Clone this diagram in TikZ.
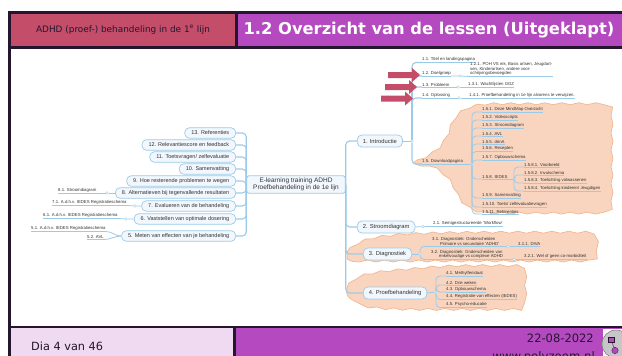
\documentclass[tikz,border=0pt]{standalone}
\usepackage{fontspec}
\setmainfont{Liberation Sans}
\newfontfamily\vfont{DejaVu Sans}
\usetikzlibrary{decorations.pathmorphing}
\definecolor{darkbar}{HTML}{24162F}
\definecolor{purplebar}{HTML}{B54AC0}
\definecolor{redbar}{HTML}{C44D69}
\definecolor{pinkbar}{HTML}{F0DAF2}
\definecolor{linkblue}{HTML}{9CCBE8}
\definecolor{pillfill}{HTML}{F1F7FC}
\definecolor{cloudfill}{HTML}{F9D5BF}
\definecolor{cloudline}{HTML}{F2B78F}
\definecolor{inktext}{HTML}{333333}
\tikzset{
  x=1pt,y=-1pt,
  lnk/.style={draw=linkblue,line width=0.8pt,rounded corners=4pt},
  spine/.style={draw=linkblue,line width=1.1pt,rounded corners=4pt},
  ulin/.style={draw=linkblue,line width=0.7pt},
  pill/.style={draw=linkblue,fill=pillfill,rounded corners=4.5pt,line width=0.7pt,minimum height=10.5pt,inner xsep=6.5pt,inner ysep=0pt,text=inktext,font=\fontsize{5.5}{5.6}\selectfont},
  bigpill/.style={pill,minimum height=12pt,inner xsep=5.5pt,font=\fontsize{5.8}{6}\selectfont},
  leaf/.style={anchor=south west,inner xsep=0pt,inner ysep=0.7pt,text=inktext,align=left,font=\fontsize{4.3}{4.6}\selectfont},
  dot/.style={circle,draw=linkblue,fill=white,line width=0.4pt,minimum size=2.6pt,inner sep=0pt},
  cloudb/.style={draw=cloudline,fill=cloudfill,line width=0.7pt,decorate,decoration={snake,segment length=17pt,amplitude=1pt}},
  fatarrow/.style={fill=redbar,draw=none},
}
\newcommand{\lf}[4]{\node[leaf] (#1) at (#2,#3) {#4};\draw[ulin] (#1.south west) -- (#1.south east);}
\newcommand{\fatarr}[3]{\fill[fatarrow] (#1,#2-3) -- (#3-8,#2-3) -- (#3-8,#2-7) -- (#3,#2) -- (#3-8,#2+7) -- (#3-8,#2+3) -- (#1,#2+3) -- cycle;}
\begin{document}
\begin{tikzpicture}
\clip (0,0) rectangle (622,356);
\fill[white] (0,0) rectangle (622,356);
% frame
\fill[darkbar] (8,11) rectangle (622,14);
\fill[darkbar] (8,11) rectangle (11,356);
\fill[redbar] (11,14) rectangle (235,46);
\fill[purplebar] (238,14) rectangle (622,46);
\fill[darkbar] (235,14) rectangle (238,46);
\fill[darkbar] (11,46) rectangle (622,48.5);
\fill[darkbar] (11,326) rectangle (622,328);
\fill[pinkbar] (11,328) rectangle (233,356);
\fill[darkbar] (233,328) rectangle (236,356);
\fill[purplebar] (236,328) rectangle (622,356);
\node[text=darkbar,font=\vfont\fontsize{8.9}{9}\selectfont] (hdr) at (123,30) {ADHD (proef-) behandeling in de 1\textsuperscript{e} lijn};
\node[text=white,font=\vfont\bfseries\fontsize{16.3}{17}\selectfont] (title) at (429,30) {1.2 Overzicht van de lessen (Uitgeklapt)};
\node[text=darkbar,anchor=west,inner sep=0pt,font=\vfont\fontsize{11.3}{12}\selectfont] (dia) at (31,346) {Dia 4 van 46};
\node[text=darkbar,anchor=east,inner sep=0pt,font=\vfont\fontsize{11.5}{12}\selectfont] (date) at (594,338) {22-08-2022};
\node[text=darkbar,anchor=east,inner sep=0pt,font=\vfont\fontsize{11.7}{12}\selectfont] (www) at (595,357) {www.polyzoom.nl};
% logo
\fill[white] (603,329) rectangle (622,356);
\fill[gray!45,draw=gray!90!black,line width=0.5pt] (616,344) circle (14);
\draw[purplebar!70!black,line width=0.6pt] (611,340) -- (615,350);
\fill[purplebar,draw=darkbar,line width=0.3pt] (608,337) rectangle (614,342);
\fill[purplebar,draw=darkbar,line width=0.3pt] (615,350.5) circle (3.2);
% clouds
\path[cloudb] (413,163) .. controls (430,155) and (440,150) .. (447,128) .. controls (452,113) and (465,105.5) .. (490,105.5) -- (597,105.5) .. controls (605,105.5) and (608,108) .. (608,115) -- (608,206) .. controls (608,213) and (605,216.5) .. (597,216.5) -- (490,216.5) .. controls (468,216.5) and (458,210) .. (450,190) .. controls (442,175) and (430,170) .. cycle;
\path[cloudb] (347,252) .. controls (355,244) and (365,240) .. (400,237) .. controls (440,235) and (470,235) .. (520,235) -- (585,235) .. controls (592,235) and (594,238) .. (594,244) -- (594,254) .. controls (594,260) and (592,264) .. (585,264) -- (360,264) .. controls (352,264) and (347,260) .. cycle;
\path[cloudb] (347,288) .. controls (352,280) and (362,276) .. (400,273) .. controls (425,271) and (440,269) .. (470,269) -- (515,269) .. controls (521,269) and (523,271) .. (523,276) -- (523,304) .. controls (523,309) and (521,312) .. (515,312) -- (440,312) .. controls (400,312) and (380,312) .. (362,309) .. controls (352,307) and (347,300) .. cycle;
% mind map: centre
\node[pill,minimum width=97pt,minimum height=17.5pt,font=\fontsize{6.5}{6.8}\selectfont,align=center,rounded corners=2.5pt,line width=0.8pt] (cen) at (296,184.5) {E-learning training ADHD\\Proefbehandeling in de 1e lijn};
% left pills
\node[pill,anchor=east] (p13) at (236,133) {13. Referenties};
\node[pill,anchor=east] (p12) at (236,145) {12. Relevantiescore en feedback};
\node[pill,anchor=east] (p11) at (236,157) {11. Toetsvragen/ zelfevaluatie};
\node[pill,anchor=east] (p10) at (236,169) {10. Samenvatting};
\node[pill,anchor=east] (p9) at (236,181) {9. Hoe resterende problemen te wegen};
\node[pill,anchor=east] (p8) at (236,193) {8. Alternatieven bij tegenvallende resultaten};
\node[pill,anchor=east] (p7) at (236,206) {7. Evalueren van de behandeling};
\node[pill,anchor=east] (p6) at (236,219) {6. Vaststellen van optimale dosering};
\node[pill,anchor=east] (p5) at (236,236) {5. Meten van effecten van je behandeling};
\foreach \n in {p13,p12,p11,p10,p9,p8,p7,p6,p5} \draw[spine] (\n.east) -| (cen.west);
% left leaves
\node[dot] (d8) at (107,193) {};
\node[dot] (d7) at (135,206) {};
\node[dot] (d6) at (126,219) {};
\lf{l81}{58}{193}{8.1. Stroomdiagram}
\lf{l71}{52}{205.5}{7.1. A.d.h.v. IEDES Registratieschema}
\lf{l61}{43}{218.5}{6.1. A.d.h.v. IEDES Registratieschema}
\lf{l51}{31}{231.5}{5.1. A.d.h.v. IEDES Registratieschema}
\lf{l52}{87}{239.5}{5.2. AVL}
\draw[lnk] (p8.west) -- (d8) -- (l81.south east);
\draw[lnk] (p7.west) -- (d7) -- (l71.south east);
\draw[lnk] (p6.west) -- (d6) -- (l61.south east);
\draw[lnk] (p5.west) to[out=180,in=0] (l51.south east);
\draw[lnk] (p5.west) to[out=180,in=0] (l52.south east);
% right pills
\node[bigpill,anchor=west] (p1) at (357,141) {1. Introductie};
\node[bigpill,anchor=west] (p2) at (357,227) {2. Stroomdiagram};
\node[bigpill,anchor=west] (p3) at (363,254) {3. Diagnostiek};
\node[bigpill,anchor=west] (p4) at (363,293) {4. Proefbehandeling};
\foreach \n in {p1,p2,p3,p4} \draw[spine] (\n.west) -| (cen.east);
% branch 1
\node[dot] (d1) at (412,141) {};
\draw[lnk] (p1.east) -- (d1);
\node[dot] (d12) at (460,76) {};
\node[dot] (d13) at (458,87) {};
\node[dot] (d14) at (459,98) {};
\lf{l11}{422}{62.5}{1.1. Titel en landingspagina}
\lf{l12}{422}{76}{1.2. Doelgroep}
\lf{l13}{422}{87}{1.3. Probleem}
\lf{l14}{422}{98}{1.4. Oplossing}
\lf{l121}{470}{76.5}{1.2.1. POH VS mk, Basis artsen, Jeugdart-\\sen, Kinderartsen, andere voor-\\schrijvingsbevoegden\hspace{22pt}}
\lf{l131}{468}{87}{1.3.1. Wachtlijsten GGZ}
\lf{l141}{469}{98}{1.4.1. Proefbehandeling in 1e lijn alvorens te verwijzen.}
\foreach \n in {l11,l12,l13,l14} \draw[spine] (\n.south west) -| (d1);
\draw[lnk] (l12.south east) -- (d12) -- (l121.south west);
\draw[lnk] (l13.south east) -- (d13) -- (l131.south west);
\draw[lnk] (l14.south east) -- (d14) -- (l141.south west);
% 1.5
\lf{l15}{422}{164}{1.5. Downloadpagina}
\node[dot] (d15) at (472,164) {};
\draw[spine] (l15.south west) -| (d1);
\draw[lnk] (l15.south east) -- (d15);
\lf{a1}{482}{112}{1.5.1. Deze MindMap Overzicht}
\lf{a2}{482}{120}{1.5.2. Videoscripts}
\lf{a3}{482}{128}{1.5.3. Stroomdiagram}
\lf{a4}{482}{136}{1.5.4. AVL}
\lf{a5}{482}{144}{1.5.5. drinA}
\lf{a6}{482}{151.5}{1.5.6. Recepten}
\lf{a7}{482}{160}{1.5.7. Opbouwschema}
\lf{a8}{482}{179}{1.5.8. IEDES}
\lf{a9}{482}{198}{1.5.9. Samenvatting}
\lf{a10}{482}{207}{1.5.10. Toets/ zelfevaluatievragen}
\lf{a11}{482}{214}{1.5.11. Referenties}
\foreach \n in {a1,a2,a3,a4,a5,a6,a7,a8,a9,a10,a11} \draw[lnk] (\n.south west) -| (d15);
\node[dot] (d158) at (514,179) {};
\draw[lnk] (a8.south east) -- (d158);
\lf{b1}{524}{167}{1.5.8.1. Voorbeeld}
\lf{b2}{524}{175}{1.5.8.2. Invulschema}
\lf{b3}{524}{183}{1.5.8.3. Toelichting volwassenen}
\lf{b4}{524}{191}{1.5.8.4. Toelichting kinderen/ Jeugdigen}
\foreach \n in {b1,b2,b3,b4} \draw[lnk] (\n.south west) -| (d158);
% branch 2
\node[dot] (d2) at (423,226.5) {};
\lf{l21}{433}{226.5}{2.1. Semigestructureerde 'Workflow'}
\draw[lnk] (p2.east) -- (d2) -- (l21.south west);
% branch 3
\node[dot] (d3) at (420,254) {};
\draw[lnk] (p3.east) -- (d3);
\node[dot] (d31) at (508,246.5) {};
\node[dot] (d32) at (514,259.5) {};
\lf{l31}{432}{246.5}{3.1. Diagnostiek: Onderscheiden\\\hspace{8pt}Primaire vs secundaire 'ADHD'}
\lf{l32}{431}{259.5}{3.2. Diagnostiek: Onderscheiden van\\\hspace{8pt}enkelvoudige vs complexe ADHD}
\lf{l311}{518}{246.5}{3.1.1. DIVA}
\lf{l321}{524}{259.5}{3.2.1. Wel of geen co-morbiditeit}
\draw[lnk] (l31.south west) -| (d3);
\draw[lnk] (l32.south west) -| (d3);
\draw[lnk] (l31.south east) -- (d31) -- (l311.south west);
\draw[lnk] (l32.south east) -- (d32) -- (l321.south west);
% branch 4
\node[dot] (d4) at (436,292) {};
\draw[lnk] (p4.east) -- (d4);
\lf{l41}{446}{276}{4.1. Methylfenidaat}
\lf{l42}{446}{285}{4.2. Drie weken}
\lf{l43}{446}{292}{4.3. Opbouwschema}
\lf{l44}{446}{299.5}{4.4. Registratie van effecten (IEDES)}
\lf{l45}{446}{307.5}{4.5. Psycho-educatie}
\foreach \n in {l41,l42,l43,l44,l45} \draw[lnk] (\n.south west) -| (d4);
% red arrows
\fatarr{388}{75}{420}
\fatarr{385}{87}{417}
\fatarr{381}{98.5}{413}
\end{tikzpicture}
\end{document}
